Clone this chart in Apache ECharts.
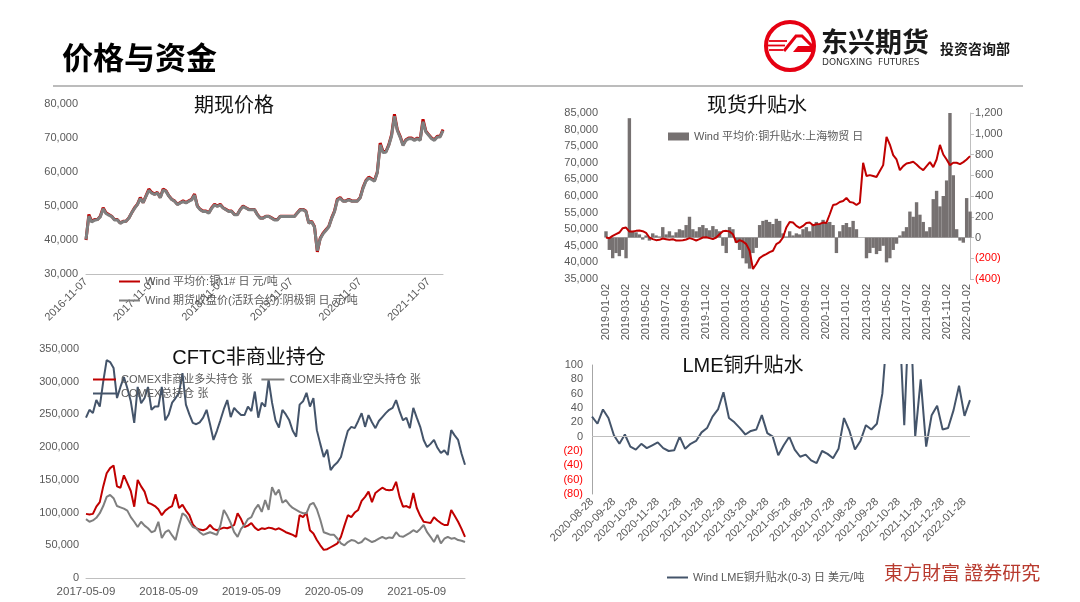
<!DOCTYPE html>
<html><head><meta charset="utf-8">
<script src="https://cdn.jsdelivr.net/npm/echarts/dist/echarts.min.js"></script>
<style>html,body{margin:0;padding:0;background:#fff}#c{width:1080px;height:602px}</style>
</head><body><div id="c"></div>
<script>
// ---------- Chart 1: 期现价格 (semi-monthly samples, 2016-11-07 .. 2022-01-22)
const spot1 = [40000,47500, 45500,46000, 46000,47000, 49500,48000, 47500,47000, 46000,46000, 45000,45500, 45500,46500, 48000,49500, 50500,52500, 51000,53000, 55000,54000, 53500,54000, 52500,55000, 54500,53000, 52000,51500, 50500,51000, 51500,51000, 51500,52000, 53500,50000, 49000,48500, 48500,48000, 49500,50500, 50000,50500, 49500,49000, 48500,48500, 47500,47500, 49000,50000, 49500,49000, 49000,49000, 47500,46500, 46500,47000, 47000,46500, 46000,46000, 47000,47000, 47000,47000, 47000,47000, 48000,49000, 49000,48500, 45000,45500, 44000,36500, 40500,42000, 43000,44000, 46500,48500, 52000,52500, 51500,51500, 52000,51500, 51500,51500, 52500,55500, 57500,58500, 58000,57500, 60000,68500, 66000,66000, 68000,71000, 77000,72500, 70500,68000, 69500,70000, 70000,69500, 70000,69500, 75500,72000, 71000,70000, 69500,70500, 70500,72500];
const fut1 = [40200,47000, 45300,45800, 46000,46800, 49200,47800, 47300,46900, 45900,45900, 44900,45400, 45500,46400, 48000,49300, 50400,52200, 51000,52800, 54600,53800, 53400,53800, 52400,54700, 54300,52900, 51900,51400, 50400,50900, 51300,50900, 51400,51800, 53200,49900, 48900,48400, 48400,47900, 49300,50300, 49900,50300, 49400,48900, 48400,48400, 47400,47400, 48900,49800, 49400,48900, 48900,48900, 47400,46400, 46400,46900, 46900,46400, 45900,45900, 46900,46900, 46900,46900, 46900,46900, 47900,48800, 48900,48400, 45000,45300, 43800,36900, 40300,41800, 42800,43800, 46300,48300, 51700,52300, 51400,51400, 51800,51400, 51400,51400, 52400,55200, 57300,58200, 57800,57300, 59800,68000, 65700,65800, 67800,70600, 76400,72200, 70200,67800, 69300,69800, 69800,69300, 69800,69300, 74800,71800, 70800,69800, 69300,70300, 70300,72200];
const ticks1 = ['2016-11-07','2017-11-07','2018-11-07','2019-11-07','2020-11-07','2021-11-07'];

// ---------- Chart 2: 现货升贴水 (3 samples per month, 2019-01-02 .. 2022-01-12)
const price2 = [47500,47300,48000, 48500,49000,50300, 50500,49300,49300, 49500,49600,49400, 48900,47500,47000, 46700,46800,47200, 47000,46800,47000, 46600,46600,46700, 46900,47300,47000, 46600,47000,47500, 47600,47300,47000, 47500,48500,49400, 49500,49300,48500, 46000,46700,46300, 45500,43500,38000, 39500,41300,42000, 42500,43100,43500, 45500,46100,47500, 50500,52200,52000, 51000,50400,51000, 51900,52000,51200, 51500,51600,52000, 51900,54500,57300, 57500,58200,58500, 59400,58200,58000, 57300,58000,70000, 66000,66300,66000, 65700,67500,69300, 77800,75500,72300, 71000,67800,69000, 69800,70000,70300, 69500,68500,67800, 69000,70200,68700, 71000,75400,72500, 71000,69300,70000, 70000,69600,70200, 71000,72000];
const premium2 = [60,-120,-200, -150,-180,-120, -200,1150,60, 50,30,-20, 20,-30,40, 20,10,100, 30,60,20, 50,80,70, 120,200,80, 60,100,120, 90,70,110, 80,60,-80, -150,100,80, -50,-120,-200, -250,-300,-150, -100,120,160, 170,150,130, 180,160,40, 10,60,20, 40,30,80, 100,60,120, 150,130,170, 140,150,120, -150,60,120, 140,100,160, 80,0,0, -200,-150,-100, -160,-130,-80, -240,-200,-120, -60,20,60, 100,250,200, 340,220,150, 60,100,370, 450,300,400, 550,1200,600, 80,-30,-50, 380,250];
const ticks2 = ['2019-01-02','2019-03-02','2019-05-02','2019-07-02','2019-09-02','2019-11-02','2020-01-02','2020-03-02','2020-05-02','2020-07-02','2020-09-02','2020-11-02','2021-01-02','2021-03-02','2021-05-02','2021-07-02','2021-09-02','2021-11-02','2022-01-02'];

// ---------- Chart 3: CFTC非商业持仓 (semi-monthly, 2017-05-09 .. 2021-12-09)
const long3 = [98000,97000,98000,109000,116000,140000,160000,168000,172000,140000,138000,157000,145000,133000,109000,150000,140000,132000,115000,113000,110000,105000,96000,103000,107000,110000,128000,107000,112000,103000,96000,82000,76000,74000,73000,75000,81000,75000,73000,75000,77000,76000,78000,81000,99000,90000,78000,80000,84000,77000,73000,76000,75000,77000,76000,74000,76000,73000,70000,68000,66000,63000,96000,93000,100000,73000,68000,58000,50000,43000,44000,47000,50000,53000,63000,80000,96000,93000,100000,104000,118000,124000,132000,116000,130000,134000,138000,135000,134000,135000,147000,124000,109000,110000,107000,130000,107000,95000,86000,85000,84000,93000,88000,84000,81000,81000,104000,95000,86000,75000,63000];
const short3 = [90000,86000,88000,92000,99000,110000,124000,127000,122000,110000,108000,106000,103000,93000,86000,78000,86000,80000,76000,70000,72000,86000,61000,70000,73000,65000,58000,80000,99000,95000,86000,78000,76000,70000,66000,68000,70000,68000,66000,80000,104000,95000,84000,70000,63000,75000,81000,90000,93000,105000,112000,101000,119000,104000,139000,127000,135000,115000,119000,112000,107000,104000,101000,99000,99000,112000,115000,105000,89000,70000,68000,66000,66000,60000,53000,50000,55000,58000,57000,53000,55000,61000,58000,55000,57000,60000,63000,60000,62000,61000,70000,64000,63000,66000,69000,73000,70000,75000,81000,70000,63000,55000,66000,53000,60000,63000,60000,61000,58000,57000,55000];
const total3 = [245000,257000,252000,272000,262000,300000,333000,330000,321000,275000,292000,307000,290000,270000,237000,292000,267000,275000,292000,257000,262000,262000,292000,241000,250000,268000,275000,283000,313000,265000,250000,237000,235000,238000,245000,257000,235000,211000,225000,241000,258000,272000,246000,260000,254000,249000,249000,262000,255000,285000,245000,268000,262000,303000,268000,241000,230000,257000,250000,241000,225000,216000,265000,270000,283000,262000,275000,226000,205000,185000,196000,165000,172000,177000,185000,206000,225000,231000,229000,240000,252000,231000,249000,238000,229000,240000,246000,252000,257000,260000,272000,255000,241000,245000,229000,260000,245000,231000,211000,200000,205000,211000,199000,191000,195000,188000,226000,218000,211000,190000,173000];
const ticks3 = ['2017-05-09','2018-05-09','2019-05-09','2020-05-09','2021-05-09'];

// ---------- Chart 4: LME铜升贴水 (4 samples per month, 2020-08-28 .. 2022-02-05)
const lme4 = [28,18,38,26,2,-10,3,-14,-18,-10,-16,-12,-8,-16,-20,-19,0,-17,-10,-6,6,12,28,38,62,26,20,12,3,8,10,30,5,0,-26,-12,0,-18,-28,-25,-33,-37,-20,-24,-30,-17,26,8,-18,-6,16,10,18,60,160,280,180,16,200,0,80,-14,30,43,10,12,37,71,29,51];
const ticks4 = ['2020-08-28','2020-09-28','2020-10-28','2020-11-28','2020-12-28','2021-01-28','2021-02-28','2021-03-28','2021-04-28','2021-05-28','2021-06-28','2021-07-28','2021-08-28','2021-09-28','2021-10-28','2021-11-28','2021-12-28','2022-01-28'];

// ---------- sample dates (category labels)
function pad(n){return (n<10?'0':'')+n;}
function genDates(y0, m0, pattern, count){
  const out=[]; let k=0;
  while(out.length<count){
    for(const [dm,d] of pattern){
      if(out.length>=count) break;
      let mm=m0-1+k+dm; const yy=y0+Math.floor(mm/12); mm=mm%12+1;
      out.push(yy+'-'+pad(mm)+'-'+pad(d));
    }
    k++;
  }
  return out;
}
const cat1 = genDates(2016,11,[[0,7],[0,22]], spot1.length);
const cat2 = genDates(2019,1,[[0,2],[0,12],[0,22]], price2.length);
const cat3 = genDates(2017,5,[[0,9],[0,24]], long3.length);
const cat4 = genDates(2020,8,[[0,28],[1,5],[1,12],[1,20]], lme4.length);

const FONT = '"Liberation Sans", Arial, "Noto Sans CJK SC", sans-serif';
const LBL = '#595959';
const fmt = v => Number(v).toLocaleString('en-US');
const fmtNeg = v => v < 0 ? '{n|(' + fmt(Math.abs(v)) + ')}' : '{p|' + fmt(v) + '}';
const rich = {n:{color:'#FF0000',fontSize:11,fontFamily:FONT}, p:{color:LBL,fontSize:11,fontFamily:FONT}};
const pick = arr => (i, v) => arr.indexOf(v) >= 0;

const N1a='Wind 平均价:铜:1# 日 元/吨', N1b='Wind 期货收盘价(活跃合约):阴极铜 日 元/吨';
const N2a='Wind 平均价:铜升贴水:上海物贸 日', N2b='平均价:铜:1#';
const N3a='COMEX非商业多头持仓 张', N3b='COMEX非商业空头持仓 张', N3c='COMEX总持仓 张';
const N4='Wind LME铜升贴水(0-3) 日 美元/吨';

const axisLine = {show:true, lineStyle:{color:'#BFBFBF', width:1}};
const lblBase = {color:LBL, fontSize:11, fontFamily:FONT};
const legText = {color:LBL, fontSize:11, fontFamily:FONT};

const chart = echarts.init(document.getElementById('c'), null, {renderer:'canvas'});
chart.setOption({
  animation:false,
  backgroundColor:'#fff',
  grid:[
    {left:86, top:104, width:357, height:170},
    {left:606, top:113, width:364, height:166},
    {left:86, top:349, width:379, height:229},
    {left:592, top:365, width:378, height:129}
  ],
  xAxis:[
    {gridIndex:0, type:'category', data:cat1, boundaryGap:false, axisLine:axisLine, axisTick:{show:false},
     axisLabel:Object.assign({interval:pick(ticks1), rotate:45, margin:6}, lblBase)},
    {gridIndex:1, type:'category', data:cat2, boundaryGap:false, axisLine:axisLine, axisTick:{show:false},
     axisLabel:Object.assign({interval:pick(ticks2), rotate:90, margin:5}, lblBase)},
    {gridIndex:2, type:'category', data:cat3, boundaryGap:false, axisLine:axisLine, axisTick:{show:false},
     axisLabel:Object.assign({interval:pick(ticks3), margin:8}, lblBase, {fontSize:11.5})},
    {gridIndex:3, type:'category', data:cat4, boundaryGap:false, axisLine:{show:false}, axisTick:{show:false},
     axisLabel:Object.assign({interval:pick(ticks4), rotate:45, margin:6}, lblBase)}
  ],
  yAxis:[
    {gridIndex:0, type:'value', min:30000, max:80000, interval:10000, axisLine:{show:false}, axisTick:{show:false}, splitLine:{show:false},
     axisLabel:Object.assign({formatter:fmt, margin:8}, lblBase)},
    {gridIndex:1, type:'value', min:35000, max:85000, interval:5000, axisLine:{show:false}, axisTick:{show:false}, splitLine:{show:false},
     axisLabel:Object.assign({formatter:fmt, margin:8}, lblBase)},
    {gridIndex:1, type:'value', position:'right', min:-400, max:1200, interval:200, axisLine:axisLine,
     axisTick:{show:true, length:4, lineStyle:{color:'#BFBFBF'}}, splitLine:{show:false},
     axisLabel:{formatter:fmtNeg, rich:rich, margin:5}},
    {gridIndex:2, type:'value', min:0, max:350000, interval:50000, axisLine:{show:false}, axisTick:{show:false}, splitLine:{show:false},
     axisLabel:Object.assign({formatter:fmt, margin:7}, lblBase)},
    {gridIndex:3, type:'value', min:-80, max:100, interval:20, axisLine:{show:true, lineStyle:{color:'#A6A6A6'}}, axisTick:{show:false}, splitLine:{show:false},
     axisLabel:{formatter:fmtNeg, rich:rich, margin:9}}
  ],
  legend:[
    {data:[N1a], left:114, top:271, icon:'rect', itemWidth:21, itemHeight:2, textStyle:legText, selectedMode:false},
    {data:[N1b], left:114, top:290, icon:'rect', itemWidth:21, itemHeight:2, textStyle:legText, selectedMode:false},
    {data:[N2a], left:663, top:126, icon:'rect', itemWidth:21, itemHeight:8, textStyle:legText, selectedMode:false},
    {data:[N3a, N3b], left:88, top:369, icon:'rect', itemWidth:23, itemHeight:2, itemGap:9, textStyle:legText, selectedMode:false},
    {data:[N3c], left:88, top:383, icon:'rect', itemWidth:23, itemHeight:2, textStyle:legText, selectedMode:false},
    {data:[N4], left:662, top:567, icon:'rect', itemWidth:21, itemHeight:2, textStyle:legText, selectedMode:false}
  ],
  series:[
    {name:N1a, type:'line', xAxisIndex:0, yAxisIndex:0, data:spot1, symbol:'none', color:'#C00000', lineStyle:{width:3, color:'#C00000'}},
    {name:N1b, type:'line', xAxisIndex:0, yAxisIndex:0, data:fut1, symbol:'none', color:'#7F7F7F', lineStyle:{width:3, color:'#7F7F7F'}},
    {name:N2a, type:'bar', xAxisIndex:1, yAxisIndex:2, data:premium2, color:'#767171', itemStyle:{color:'#767171'}, barWidth:3.4},
    {name:N2b, type:'line', xAxisIndex:1, yAxisIndex:1, data:price2, symbol:'none', color:'#C00000', lineStyle:{width:2, color:'#C00000'}, z:5},
    {name:N3a, type:'line', xAxisIndex:2, yAxisIndex:3, data:long3, symbol:'none', color:'#C00000', lineStyle:{width:2, color:'#C00000'}},
    {name:N3b, type:'line', xAxisIndex:2, yAxisIndex:3, data:short3, symbol:'none', color:'#7F7F7F', lineStyle:{width:2, color:'#7F7F7F'}},
    {name:N3c, type:'line', xAxisIndex:2, yAxisIndex:3, data:total3, symbol:'none', color:'#44546A', lineStyle:{width:2, color:'#44546A'}},
    {name:N4, type:'line', xAxisIndex:3, yAxisIndex:4, data:lme4, symbol:'none', color:'#44546A', lineStyle:{width:2, color:'#44546A'}, clip:true,
     markLine:{silent:true, symbol:'none', label:{show:false}, lineStyle:{color:'#BFBFBF', type:'solid', width:1}, data:[{yAxis:0}]}}
  ],
  graphic:[
    {type:'text', left:62, top:42, style:{text:'价格与资金', font:'bold 31px "Noto Sans CJK SC", sans-serif', fill:'#000'}},
    {type:'line', shape:{x1:53, y1:86, x2:1023, y2:86}, style:{stroke:'#A6A6A6', lineWidth:1.5}},
    // logo
    {type:'circle', shape:{cx:790, cy:46, r:24}, style:{fill:'#fff', stroke:'#E60012', lineWidth:4}},
    {type:'line', shape:{x1:769, y1:41, x2:787, y2:41}, style:{stroke:'#E60012', lineWidth:1.8}},
    {type:'line', shape:{x1:768, y1:45.5, x2:785, y2:45.5}, style:{stroke:'#E60012', lineWidth:1.8}},
    {type:'line', shape:{x1:769, y1:50, x2:783, y2:50}, style:{stroke:'#E60012', lineWidth:1.8}},
    {type:'polyline', shape:{points:[[784,51],[796,36],[802,36],[812,46]]}, style:{stroke:'#E60012', lineWidth:3, fill:null}},
    {type:'polygon', shape:{points:[[798,46],[813,46],[812,52],[793,52]]}, style:{fill:'#E60012'}},
    {type:'text', left:821, top:28, style:{text:'东兴期货', font:'bold 27px "Noto Sans CJK SC", sans-serif', fill:'#1a1a1a'}},
    {type:'text', left:822, top:58, style:{text:'DONGXING  FUTURES', font:'9px "DejaVu Sans", sans-serif', fill:'#333'}},
    {type:'text', left:940, top:42, style:{text:'投资咨询部', font:'bold 14px "Noto Sans CJK SC", sans-serif', fill:'#1a1a1a'}},
    // sub titles
    {type:'text', x:234, y:104, style:{text:'期现价格', textAlign:'center', textVerticalAlign:'middle', align:'center', verticalAlign:'middle', font:'20px "Noto Sans CJK SC", sans-serif', fill:'#111'}},
    {type:'text', x:757, y:104, style:{text:'现货升贴水', textAlign:'center', textVerticalAlign:'middle', align:'center', verticalAlign:'middle', font:'20px "Noto Sans CJK SC", sans-serif', fill:'#111'}},
    {type:'text', x:249, y:358, style:{text:'CFTC非商业持仓', textAlign:'center', textVerticalAlign:'middle', align:'center', verticalAlign:'middle', font:'20px "Liberation Sans", "Noto Sans CJK SC", sans-serif', fill:'#111'}},
    {type:'text', x:743, y:366, style:{text:'LME铜升贴水', textAlign:'center', textVerticalAlign:'middle', align:'center', verticalAlign:'middle', font:'20px "Liberation Sans", "Noto Sans CJK SC", sans-serif', fill:'#111'}},
    // watermark
    {type:'text', left:884, top:563, style:{text:'東方財富 證券研究', font:'19px "Noto Sans CJK TC", sans-serif', fill:'#B83A2E'}}
  ]
});
</script></body></html>
